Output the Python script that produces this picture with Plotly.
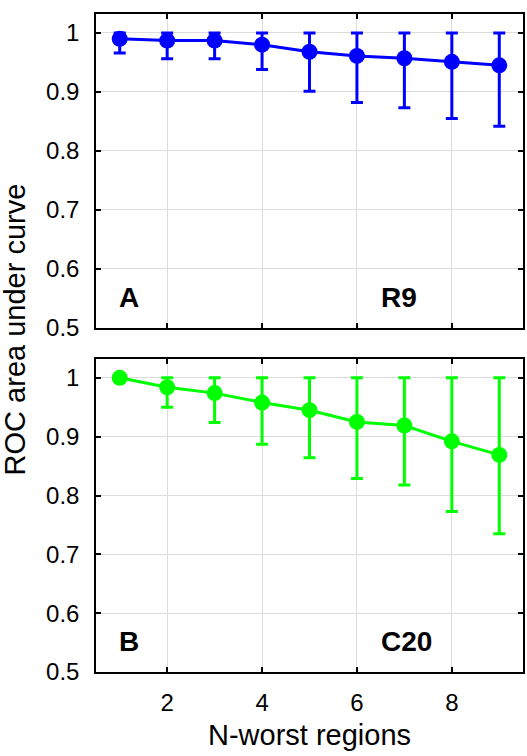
import plotly.graph_objects as go
from plotly.subplots import make_subplots

n_regions = [1, 2, 3, 4, 5, 6, 7, 8, 9]

r9_auc = [0.990, 0.987, 0.987, 0.980, 0.968, 0.961, 0.957, 0.951, 0.945]
r9_lower = [0.966, 0.956, 0.956, 0.938, 0.901, 0.882, 0.873, 0.855, 0.842]
r9_upper = [1.0, 1.0, 1.0, 1.0, 1.0, 1.0, 1.0, 1.0, 1.0]

c20_auc = [1.000, 0.984, 0.974, 0.958, 0.945, 0.925, 0.919, 0.892, 0.869]
c20_lower = [1.000, 0.950, 0.924, 0.887, 0.864, 0.829, 0.818, 0.773, 0.735]
c20_upper = [1.0, 1.0, 1.0, 1.0, 1.0, 1.0, 1.0, 1.0, 1.0]

y_ticks = [0.5, 0.6, 0.7, 0.8, 0.9, 1.0]
y_tick_labels = ["0.5", "0.6", "0.7", "0.8", "0.9", "1"]
x_ticks = [2, 4, 6, 8]

FONT = "Liberation Sans, Arial, sans-serif"

fig = make_subplots(rows=2, cols=1, vertical_spacing=0.05)

def add_series(row, y, lo, hi, color):
    fig.add_trace(go.Scatter(
        x=n_regions, y=y, mode="lines+markers",
        line=dict(color=color, width=3),
        marker=dict(color=color, size=16),
        error_y=dict(type="data", symmetric=False,
                     array=[h - v for h, v in zip(hi, y)],
                     arrayminus=[v - l for v, l in zip(y, lo)],
                     color=color, thickness=3, width=6),
        showlegend=False), row=row, col=1)

add_series(1, r9_auc, r9_lower, r9_upper, "#0000ff")
add_series(2, c20_auc, c20_lower, c20_upper, "#00ff00")

H = 658.0
top_dom = [(672 - 328) / H, 1.0]
bot_dom = [0.0, (672 - 359) / H]

axis_common = dict(showline=True, linecolor="black", linewidth=1.5, mirror="ticks",
                   ticks="inside", ticklen=5, tickcolor="black", tickwidth=1.5,
                   showgrid=True, gridcolor="#dcdcdc", gridwidth=1, zeroline=False,
                   tickfont=dict(family=FONT, size=24, color="black"))

fig.update_xaxes(range=[0.5, 9.5], tickvals=x_ticks, **axis_common)
fig.update_xaxes(showticklabels=False, row=1, col=1)
fig.update_xaxes(ticklabelstandoff=8, row=2, col=1)
fig.update_yaxes(range=[0.5, 1.032], tickvals=y_ticks, ticktext=y_tick_labels,
                 ticklabelstandoff=10, **axis_common)
fig.update_layout(yaxis=dict(domain=top_dom), yaxis2=dict(domain=bot_dom))

for xr, yr, txt in [("x", "y", "A"), ("x", "y", "R9"), ("x2", "y2", "B"), ("x2", "y2", "C20")]:
    xpos = 0.95 if txt in ("A", "B") else 6.47
    fig.add_annotation(x=xpos, y=0.552, xref=xr, yref=yr, text="<b>" + txt + "</b>",
                       showarrow=False, xanchor="left", yanchor="middle",
                       font=dict(family=FONT, size=28, color="black"))

fig.add_annotation(x=0.5, y=(672 - 735) / H, xref="paper", yref="paper",
                   text="N-worst regions", showarrow=False, xanchor="center", yanchor="middle",
                   font=dict(family=FONT, size=29, color="black"))
fig.add_annotation(x=(15 - 96) / 429.0, y=(672 - 329) / H, xref="paper", yref="paper",
                   text="ROC area under curve", showarrow=False, textangle=-90,
                   xanchor="center", yanchor="middle", borderpad=0,
                   font=dict(family=FONT, size=29, color="black"))

fig.update_layout(width=527, height=756, margin=dict(l=96, r=2, t=14, b=84),
                  plot_bgcolor="white", paper_bgcolor="white")

fig.write_html("out.html")
